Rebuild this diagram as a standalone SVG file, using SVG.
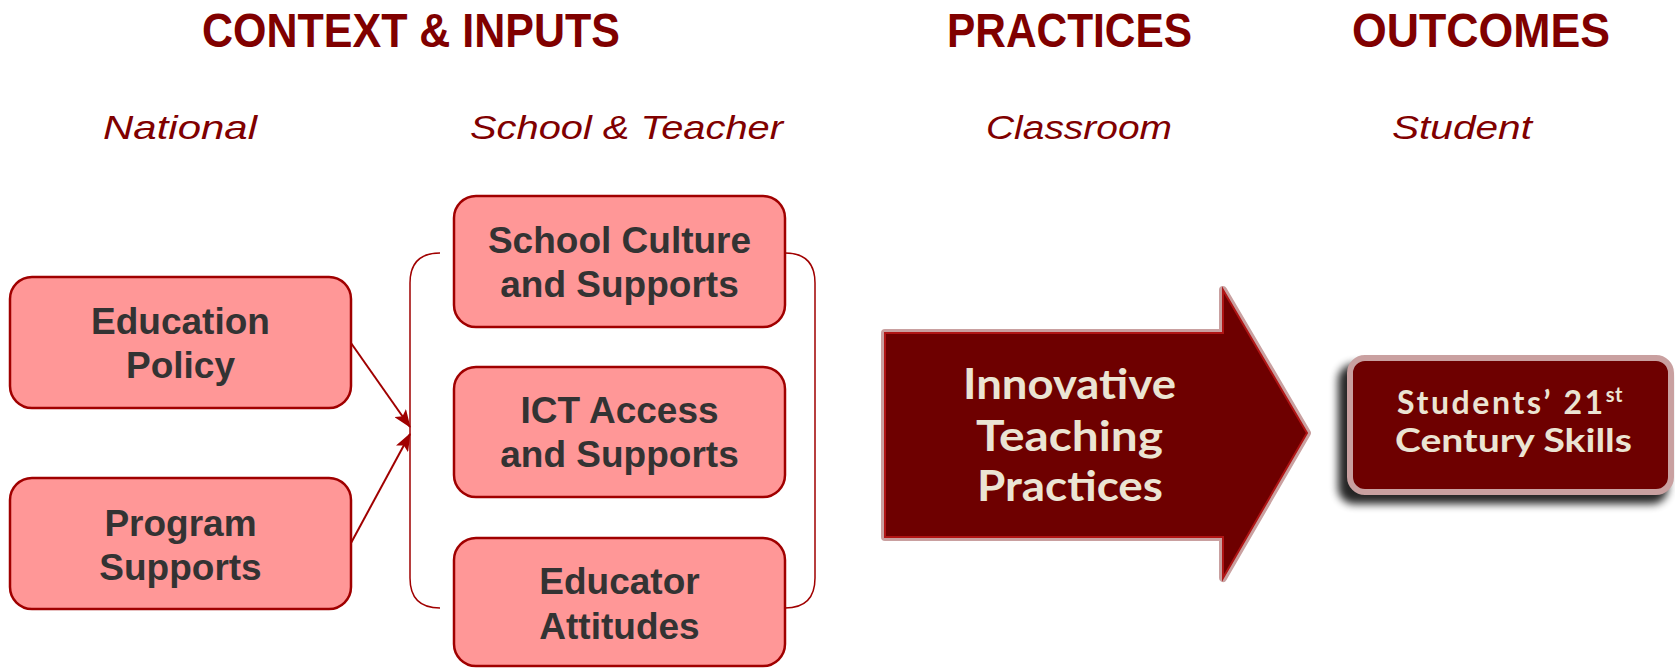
<svg xmlns="http://www.w3.org/2000/svg" width="1675" height="668" viewBox="0 0 1675 668">
<defs>
<style>
.hdr{font-family:"Liberation Sans",Arial,sans-serif;font-weight:bold;font-size:48px;fill:#800000}
.sub{font-family:"Liberation Sans",Arial,sans-serif;font-style:italic;font-size:34px;fill:#800000}
.box{fill:#ff9797;stroke:#a00000;stroke-width:2.5}
.bt{font-family:"Liberation Sans",Arial,sans-serif;font-weight:bold;font-size:37px;fill:#333333;text-anchor:middle}
.lt{font-family:"Lato","Open Sans",sans-serif;font-weight:bold;fill:#ebe4d3}
.con{stroke:#a00000;stroke-width:2;fill:none}
.brk{stroke:#a00000;stroke-width:1.5;fill:none}
</style>
<marker id="ah" viewBox="0 0 18 14" refX="17" refY="7" markerWidth="18" markerHeight="14" markerUnits="userSpaceOnUse" orient="auto">
<path d="M0,0 L18,7 L0,14 L4,7 Z" fill="#a00000"/>
</marker>
<filter id="sh" x="-10%" y="-10%" width="120%" height="130%">
<feGaussianBlur stdDeviation="4"/>
</filter>
</defs>
<rect width="1675" height="668" fill="#ffffff"/>

<g id="headers">
<text class="hdr" x="202" y="47" textLength="418" lengthAdjust="spacingAndGlyphs">CONTEXT &amp; INPUTS</text>
<text class="hdr" x="947" y="47" textLength="245" lengthAdjust="spacingAndGlyphs">PRACTICES</text>
<text class="hdr" x="1352" y="47" textLength="258" lengthAdjust="spacingAndGlyphs">OUTCOMES</text>
<text class="sub" x="103" y="139" textLength="154" lengthAdjust="spacingAndGlyphs">National</text>
<text class="sub" x="470" y="139" textLength="313" lengthAdjust="spacingAndGlyphs">School &amp; Teacher</text>
<text class="sub" x="986" y="139" textLength="186" lengthAdjust="spacingAndGlyphs">Classroom</text>
<text class="sub" x="1392" y="139" textLength="140" lengthAdjust="spacingAndGlyphs">Student</text>
</g>

<g id="connectors">
<path class="brk" d="M440,253 Q410,253 410,283 L410,578 Q410,608 440,608"/>
<path class="brk" d="M785,253 Q815,253 815,283 L815,578 Q815,608 785,608"/>
<line class="con" x1="351" y1="343" x2="410" y2="427" marker-end="url(#ah)"/>
<line class="con" x1="351" y1="543" x2="410" y2="434" marker-end="url(#ah)"/>
</g>

<g id="education-policy">
<rect class="box" x="10" y="277" width="341" height="131" rx="22"/>
<text class="bt" x="180.5" y="334">Education</text>
<text class="bt" x="180.5" y="378">Policy</text>
</g>
<g id="program-supports">
<rect class="box" x="10" y="478" width="341" height="131" rx="22"/>
<text class="bt" x="180.5" y="536">Program</text>
<text class="bt" x="180.5" y="580">Supports</text>
</g>
<g id="school-culture">
<rect class="box" x="454" y="196" width="331" height="131" rx="22"/>
<text class="bt" x="619.5" y="253">School Culture</text>
<text class="bt" x="619.5" y="297">and Supports</text>
</g>
<g id="ict-access">
<rect class="box" x="454" y="367" width="331" height="130" rx="22"/>
<text class="bt" x="619.5" y="423">ICT Access</text>
<text class="bt" x="619.5" y="467">and Supports</text>
</g>
<g id="educator-attitudes">
<rect class="box" x="454" y="538" width="331" height="128" rx="22"/>
<text class="bt" x="619.5" y="594">Educator</text>
<text class="bt" x="619.5" y="639">Attitudes</text>
</g>

<g id="innovative-teaching">
<path d="M885,333 L1223,333 L1223,290 L1307,433 L1223,578 L1223,537 L885,537 Z" fill="#c9a0a0" stroke="#c9a0a0" stroke-width="8" stroke-linejoin="round"/>
<path d="M885,333 L1223,333 L1223,290 L1307,433 L1223,578 L1223,537 L885,537 Z" fill="#6e0000" stroke="#b01515" stroke-width="2"/>
<text class="lt" x="963" y="399" font-size="42" textLength="213" lengthAdjust="spacingAndGlyphs">Innovative</text>
<text class="lt" x="976" y="451" font-size="42" textLength="187" lengthAdjust="spacingAndGlyphs">Teaching</text>
<text class="lt" x="977" y="501" font-size="42" textLength="186" lengthAdjust="spacingAndGlyphs">Practices</text>
</g>

<g id="students-skills">
<rect x="1338" y="364" width="330" height="140" rx="16" fill="#000000" opacity="0.85" filter="url(#sh)"/>
<rect x="1350" y="358" width="321" height="134" rx="15" fill="#6e0000" stroke="#c9a0a0" stroke-width="6"/>
<text class="lt" x="1397" y="414" font-size="32" letter-spacing="2.6">Students’ 21<tspan font-size="20" dy="-12" letter-spacing="0.5">st</tspan></text>
<text class="lt" x="1395" y="452" font-size="32" textLength="237" lengthAdjust="spacingAndGlyphs">Century Skills</text>
</g>
</svg>
